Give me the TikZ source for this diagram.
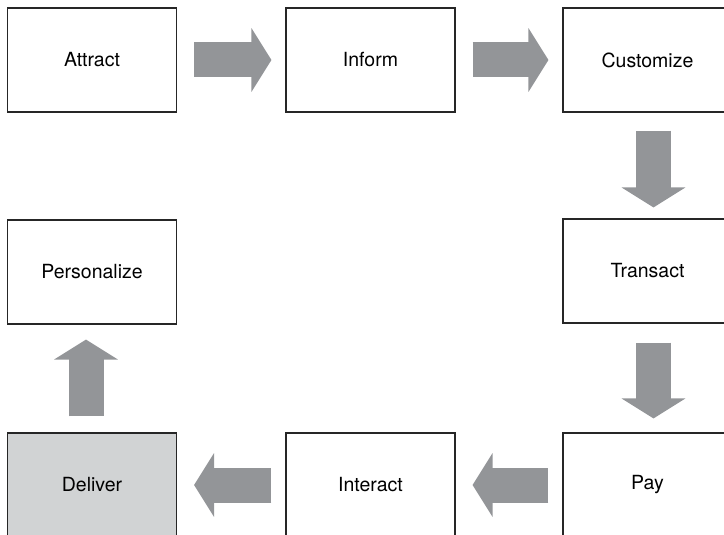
\documentclass[tikz,border=0pt]{standalone}
\usepackage{fontspec}
\setmainfont{TeX Gyre Heros}
\usetikzlibrary{arrows.meta}
\definecolor{arrowgray}{HTML}{939598}
\definecolor{delivergray}{HTML}{D1D3D4}
\begin{document}
\begin{tikzpicture}[x=1pt, y=-1pt,
  stage/.style={draw=black!85, line width=1.1pt, minimum width=169pt, minimum height=104pt,
    font=\fontsize{19.5}{23}\selectfont},
  flow/.style={draw=arrowgray, line width=35pt,
    -{Triangle[length=20pt,width=63pt]}, arrowgray}]

\useasboundingbox (0,0) rectangle (724,535);

\node[stage] (attract) at (92,60) {Attract};
\node[stage] (inform) at (370.5,60) {Inform};
\node[stage] (custom) at (647.5,60) {Customize};
\node[stage] (transact) at (647.5,271) {Transact};
\node[stage] (personal) at (92,272) {Personalize};
\node[stage, fill=delivergray] (deliver) at (92,485) {Deliver};
\node[stage] (interact) at (370.5,485) {Interact};
\node[stage] (pay) at (647.5,485) {Pay};

\draw[flow, shorten <=17pt, shorten >=14pt] (attract) -- (inform);
\draw[flow, shorten <=17pt, shorten >=14pt] (inform) -- (custom);
\draw[flow, shorten <=18pt, shorten >=11pt] ([xshift=6pt]custom.south) -- ([xshift=6pt]transact.north);
\draw[flow, shorten <=19pt, shorten >=14pt] ([xshift=6pt]transact.south) -- ([xshift=6pt]pay.north);
\draw[flow, shorten <=14pt, shorten >=17pt] (pay) -- (interact);
\draw[flow, shorten <=14pt, shorten >=17pt] (interact) -- (deliver);
\draw[flow, shorten <=16pt, shorten >=15pt] ([xshift=-6pt]deliver.north) -- ([xshift=-6pt]personal.south);

\end{tikzpicture}
\end{document}
